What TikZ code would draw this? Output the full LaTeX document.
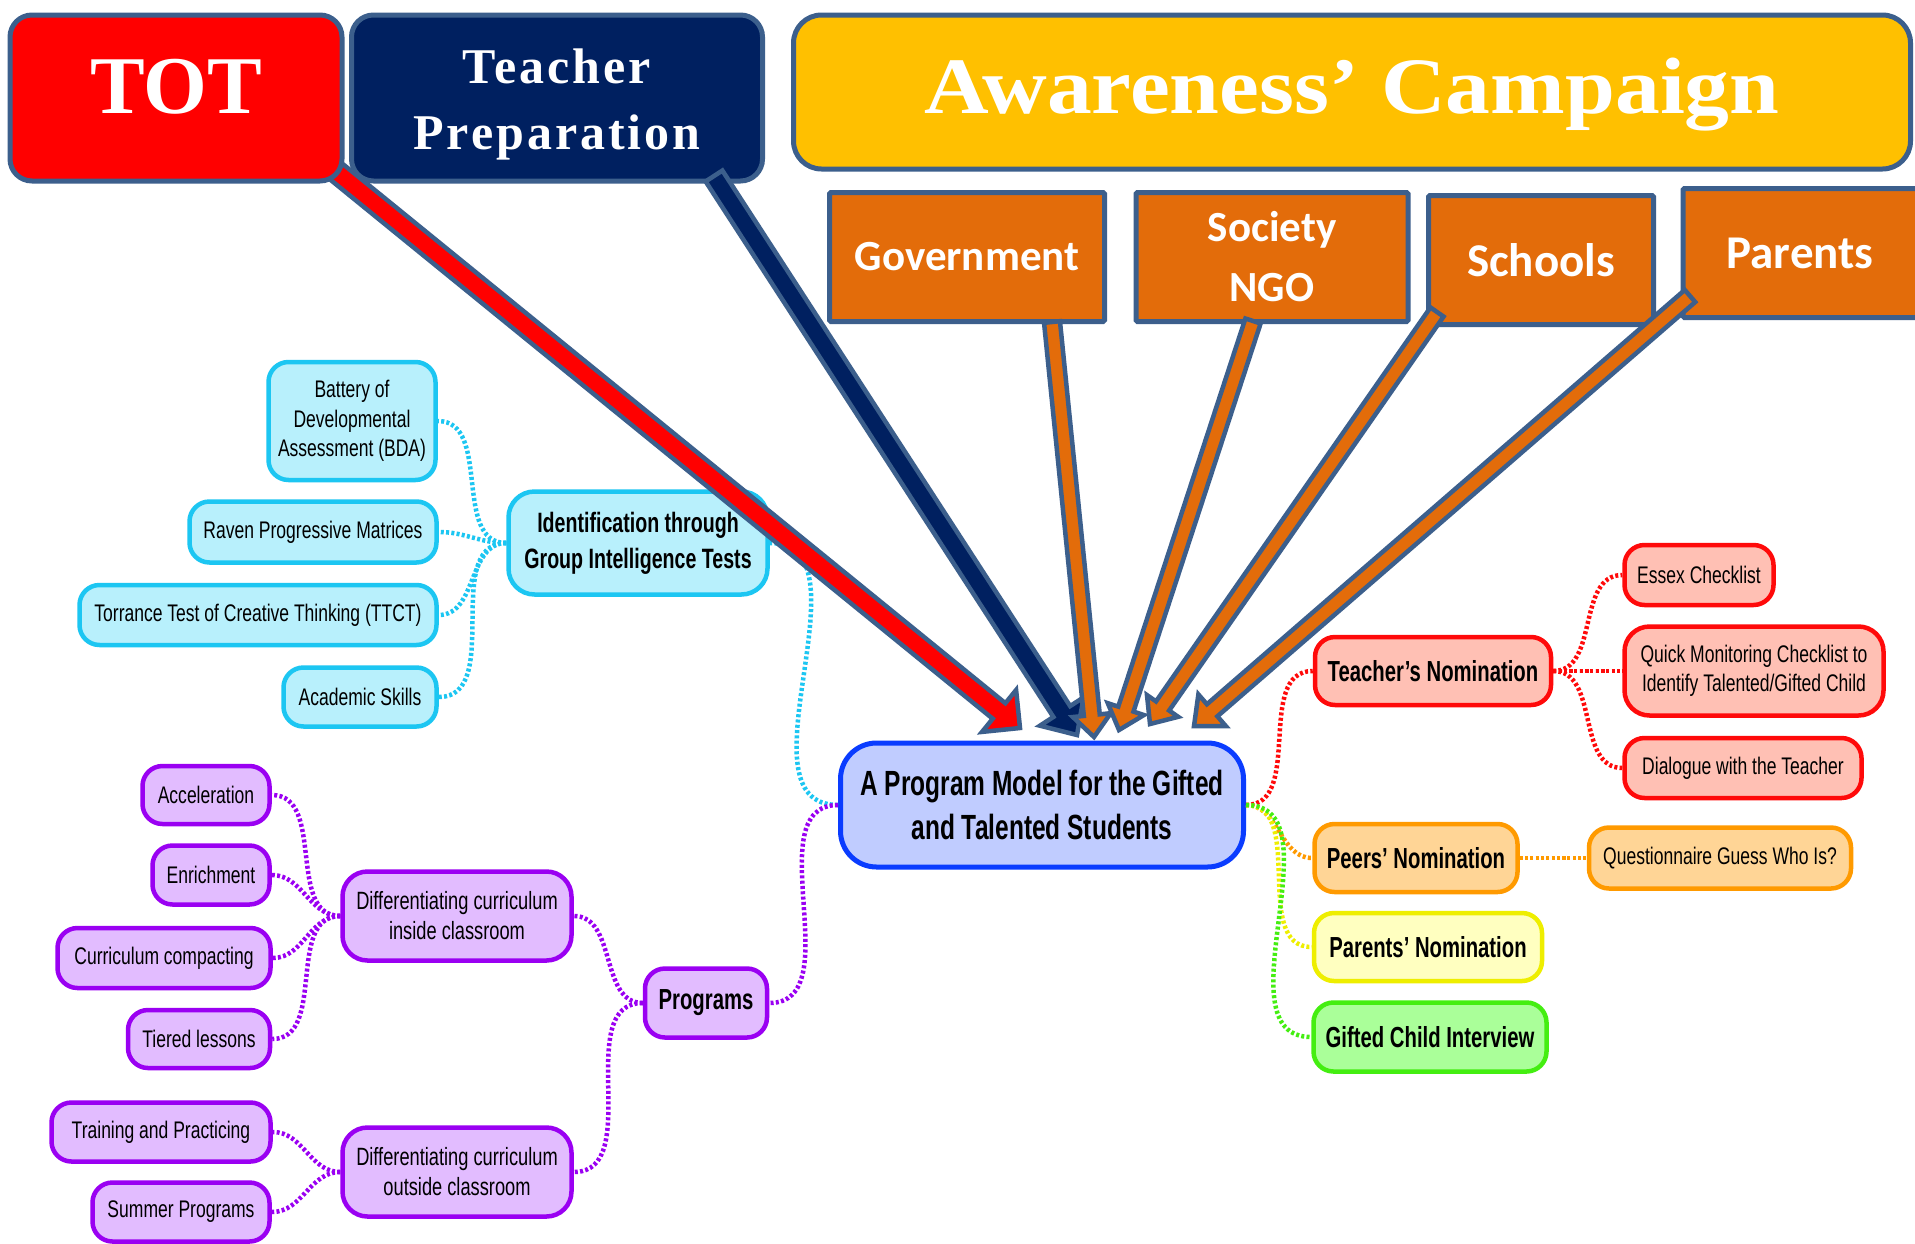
\documentclass[tikz,border=0pt]{standalone}
\usepackage{fontspec}
\setmainfont{Liberation Sans}
\newfontfamily\nodefont{Liberation Sans}[FakeStretch=0.73]
\newfontfamily\nodebold{Liberation Sans}[FakeStretch=0.70]
\newfontfamily\headserif{Liberation Serif}
\newfontfamily\spacedserif{Liberation Serif}[LetterSpace=6]
\newfontfamily\wideserif{Liberation Serif}[FakeStretch=1.12]
\newfontfamily\boxsans{Carlito}
\usetikzlibrary{calc}

\definecolor{edgeblue}{HTML}{3C5F8C}
\definecolor{totred}{HTML}{FF0000}
\definecolor{prepnavy}{HTML}{002060}
\definecolor{campgold}{HTML}{FFC000}
\definecolor{boxorange}{HTML}{E36C0A}
\definecolor{cyanfill}{HTML}{B8F0FC}
\definecolor{cyanline}{HTML}{1CC6F2}
\definecolor{purplefill}{HTML}{E2BCFF}
\definecolor{purpleline}{HTML}{9A00F2}
\definecolor{redfill}{HTML}{FFC0B4}
\definecolor{redline}{HTML}{FF0A0A}
\definecolor{orangefill}{HTML}{FFD596}
\definecolor{orangeline}{HTML}{FF9A00}
\definecolor{yellowfill}{HTML}{FFFFC0}
\definecolor{yellowline}{HTML}{EEEE00}
\definecolor{greenfill}{HTML}{AAFF99}
\definecolor{greenline}{HTML}{44EE11}
\definecolor{centerfill}{HTML}{C0CCFF}
\definecolor{centerline}{HTML}{0A3CFF}

% block arrow: #1 tail, #2 tip, #3 fill, #4 shaft half-width, #5 head half-width, #6 head length
\newcommand\blockarrow[6]{%
  \path ($(#2)!#6!(#1)$) coordinate (ba-base);
  \filldraw[arrowedge, fill=#3]
    ($(#1)!#4!90:(#2)$) -- ($(ba-base)!#4!90:(#2)$) -- ($(ba-base)!#5!90:(#2)$) -- (#2)
    -- ($(ba-base)!#5!-90:(#2)$) -- ($(ba-base)!#4!-90:(#2)$) -- ($(#1)!#4!-90:(#2)$) -- cycle;}

\tikzset{
  arrowedge/.style={draw=edgeblue, line width=4.5pt, line join=miter},
  headbox/.style={draw=edgeblue, line width=5pt, rounded corners=22pt, inner sep=0pt},
  headtext/.style={text=white, inner sep=0pt, align=center},
  orangebox/.style={draw=edgeblue, line width=5pt, fill=boxorange, rounded corners=1.5pt, text=white, inner sep=0pt,
    align=center, font=\boxsans\bfseries\fontsize{43}{60}\selectfont},
  mm/.style={draw, line width=4.5pt, rounded corners=20pt, align=center, inner xsep=6pt, inner ysep=3pt, text=black},
  leaf/.style={mm, font=\nodefont\fontsize{24}{29.5}\selectfont},
  branch/.style={mm, font=\nodebold\bfseries\fontsize{29}{36}\selectfont},
  cyanleaf/.style={leaf, draw=cyanline, fill=cyanfill},
  purpleleaf/.style={leaf, draw=purpleline, fill=purplefill},
  redleaf/.style={leaf, draw=redline, fill=redfill},
  orangeleaf/.style={leaf, draw=orangeline, fill=orangefill},
  link/.style={line width=4.5pt, dash pattern=on 3pt off 2.3pt},
}

\begin{document}
\begin{tikzpicture}[x=1pt, y=-1pt]
\useasboundingbox (0,0) rectangle (1915,1243);
\fill[white] (0,0) rectangle (1915,1243);

% ---------- central topic ----------
\node[mm, draw=centerline, fill=centerfill, line width=5pt, rounded corners=36pt,
      minimum width=403, minimum height=124, font=\nodebold\bfseries\fontsize{35}{44}\selectfont]
  (center) at (1042,805) {A Program Model for the Gifted\\and Talented Students};

% ---------- identification branch ----------
\node[branch, draw=cyanline, fill=cyanfill, rounded corners=26pt, minimum width=259, minimum height=103,
      font=\nodebold\bfseries\fontsize{28}{36}\selectfont]
  (ident) at (638,543) {Identification through\\Group Intelligence Tests};
\node[cyanleaf, minimum width=167, minimum height=118] (bda) at (352,421) {Battery of\\Developmental\\Assessment (BDA)};
\node[cyanleaf, minimum width=247, minimum height=61] (raven) at (313,532) {Raven Progressive Matrices};
\node[cyanleaf, minimum width=357, minimum height=60] (ttct) at (258,615) {Torrance Test of Creative Thinking (TTCT)};
\node[cyanleaf, minimum width=153, minimum height=59] (acad) at (360,697) {Academic Skills};

% ---------- programs branch ----------
\node[branch, draw=purpleline, fill=purplefill, minimum width=122, minimum height=69] (programs) at (706,1003) {Programs};
\node[purpleleaf, rounded corners=25pt, minimum width=229, minimum height=89, font=\nodefont\fontsize{25}{30}\selectfont]
  (diffin) at (457,916) {Differentiating curriculum\\inside classroom};
\node[purpleleaf, rounded corners=25pt, minimum width=229, minimum height=89, font=\nodefont\fontsize{25}{30}\selectfont]
  (diffout) at (457,1172) {Differentiating curriculum\\outside classroom};
\node[purpleleaf, minimum width=127, minimum height=58] (accel) at (206,795) {Acceleration};
\node[purpleleaf, minimum width=117, minimum height=59] (enrich) at (211,875) {Enrichment};
\node[purpleleaf, minimum width=213, minimum height=60] (compact) at (164,958) {Curriculum compacting};
\node[purpleleaf, minimum width=142, minimum height=58] (tiered) at (199,1039) {Tiered lessons};
\node[purpleleaf, minimum width=219, minimum height=59] (training) at (161,1132) {Training and Practicing};
\node[purpleleaf, minimum width=177, minimum height=59] (summer) at (181,1212) {Summer Programs};

% ---------- nomination branches ----------
\node[branch, draw=redline, fill=redfill, minimum width=236, minimum height=68] (teachnom) at (1433,671) {Teacher’s Nomination};
\node[redleaf, minimum width=149, minimum height=60] (essex) at (1699,575) {Essex Checklist};
\node[redleaf, rounded corners=25pt, minimum width=259, minimum height=89] (quick) at (1754,671) {Quick Monitoring Checklist to\\Identify Talented/Gifted Child};
\node[redleaf, minimum width=237, minimum height=60] (dialogue) at (1743,768) {Dialogue with the Teacher};
\node[branch, draw=orangeline, fill=orangefill, minimum width=203, minimum height=68] (peers) at (1416,858) {Peers’ Nomination};
\node[orangeleaf, minimum width=262, minimum height=61] (quest) at (1720,858) {Questionnaire Guess Who Is?};
\node[branch, draw=yellowline, fill=yellowfill, minimum width=228, minimum height=68] (parentsnom) at (1428,947) {Parents’ Nomination};
\node[branch, draw=greenline, fill=greenfill, minimum width=233, minimum height=69] (giftedint) at (1430,1037) {Gifted Child Interview};

% ---------- dotted connectors ----------
\draw[link, cyanline] (center.west) to[out=180,in=0] (ident.east);
\draw[link, cyanline] (ident.west) to[out=180,in=0] (bda.east);
\draw[link, cyanline] (ident.west) to[out=180,in=0] (raven.east);
\draw[link, cyanline] (ident.west) to[out=180,in=0] (ttct.east);
\draw[link, cyanline] (ident.west) to[out=180,in=0] (acad.east);
\draw[link, purpleline] (center.west) to[out=180,in=0] (programs.east);
\draw[link, purpleline] (programs.west) to[out=180,in=0] (diffin.east);
\draw[link, purpleline] (programs.west) to[out=180,in=0] (diffout.east);
\draw[link, purpleline] (diffin.west) to[out=180,in=0] (accel.east);
\draw[link, purpleline] (diffin.west) to[out=180,in=0] (enrich.east);
\draw[link, purpleline] (diffin.west) to[out=180,in=0] (compact.east);
\draw[link, purpleline] (diffin.west) to[out=180,in=0] (tiered.east);
\draw[link, purpleline] (diffout.west) to[out=180,in=0] (training.east);
\draw[link, purpleline] (diffout.west) to[out=180,in=0] (summer.east);
\draw[link, redline] (center.east) to[out=0,in=180] (teachnom.west);
\draw[link, redline] (teachnom.east) to[out=0,in=180] (essex.west);
\draw[link, redline] (teachnom.east) to[out=0,in=180] (quick.west);
\draw[link, redline] (teachnom.east) to[out=0,in=180] (dialogue.west);
\draw[link, orangeline] (center.east) to[out=0,in=180] (peers.west);
\draw[link, orangeline] (peers.east) to[out=0,in=180] (quest.west);
\draw[link, yellowline] (center.east) to[out=0,in=180] (parentsnom.west);
\draw[link, greenline] (center.east) to[out=0,in=180] (giftedint.west);

% ---------- arrow end points ----------
\coordinate (totTail) at (322,160);   \coordinate (totTip) at (1020,728);
\coordinate (prepTail) at (714,176);  \coordinate (prepTip) at (1077,735);
\coordinate (govTail) at (1052,322);  \coordinate (govTip) at (1094,737);
\coordinate (ngoTail) at (1253,321);  \coordinate (ngoTip) at (1119,730);
\coordinate (schTail) at (1437,312);  \coordinate (schTip) at (1150,724);
\coordinate (parTail) at (1690,296);  \coordinate (parTip) at (1194,726);

% TOT arrow runs beneath its box
\blockarrow{totTail}{totTip}{totred}{10pt}{27pt}{27pt}

% ---------- header boxes ----------
\node[headbox, fill=totred, minimum width=332, minimum height=166] (tot) at (176,98) {};
\node[headtext, font=\headserif\bfseries\fontsize{82}{90}\selectfont] (tottext) at ($(tot.center)+(0,-11)$) {TOT};
\node[headbox, fill=prepnavy, minimum width=411, minimum height=166] (prep) at (557,98) {};
\node[headtext, font=\spacedserif\bfseries\fontsize{50}{66}\selectfont] (preptext) at ($(prep.center)+(0,6)$) {Teacher\\Preparation};
\node[headbox, fill=campgold, rounded corners=28pt, minimum width=1117, minimum height=154] (campaign) at (1352,92) {};
\node[headtext, font=\wideserif\bfseries\fontsize{80}{90}\selectfont] (camptext) at ($(campaign.center)+(0,3)$) {Awareness’ Campaign};

\node[orangebox, minimum width=275, minimum height=129] (gov) at (967,257) {Government};
\node[orangebox, minimum width=272, minimum height=129] (ngo) at (1272,257) {Society\\NGO};
\node[orangebox, minimum width=225, minimum height=129, font=\boxsans\bfseries\fontsize{47}{60}\selectfont] (schools) at (1541,260) {Schools};
\node[orangebox, minimum width=262, minimum height=129, font=\boxsans\bfseries\fontsize{47}{60}\selectfont] (parents) at (1814,253) {\hspace*{-28pt}Parents};

% ---------- block arrows into the central topic ----------
\blockarrow{prepTail}{prepTip}{prepnavy}{10pt}{26pt}{28pt}
\blockarrow{govTail}{govTip}{boxorange}{8pt}{19pt}{22pt}
\blockarrow{ngoTail}{ngoTip}{boxorange}{8pt}{19pt}{22pt}
\blockarrow{schTail}{schTip}{boxorange}{8pt}{19pt}{22pt}
\blockarrow{parTail}{parTip}{boxorange}{8pt}{21pt}{24pt}
\end{tikzpicture}
\end{document}
